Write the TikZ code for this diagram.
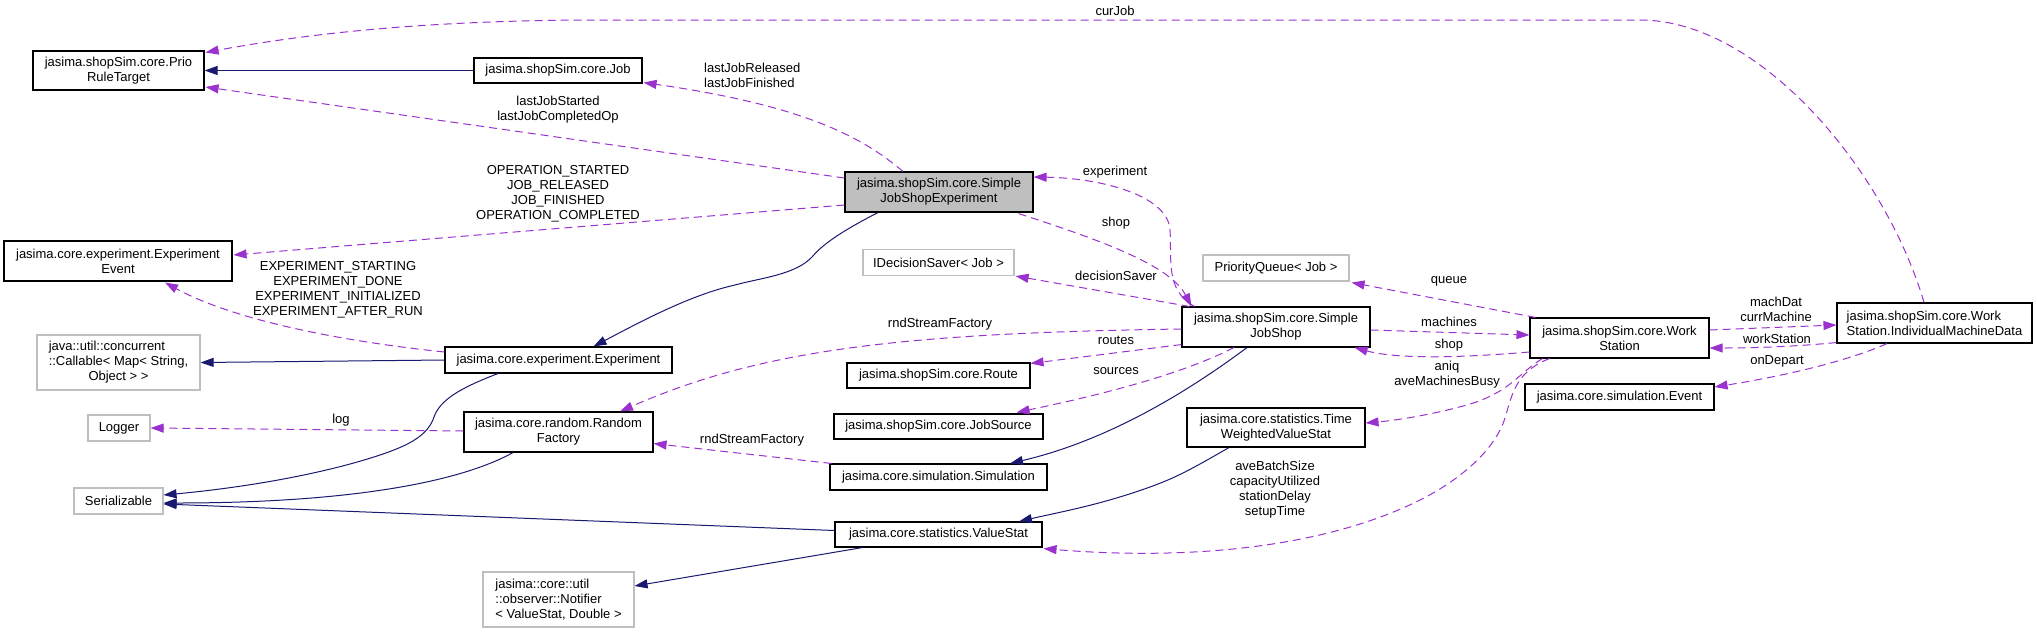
\documentclass[tikz,border=0pt]{standalone}
\usepackage{fontspec}
\setmainfont{Liberation Sans}
\usetikzlibrary{arrows.meta,calc}
\definecolor{navyc}{HTML}{191970}
\definecolor{orchidc}{HTML}{9A32CD}
\definecolor{gborder}{HTML}{BFBFBF}
\begin{document}
\begin{tikzpicture}[x=1pt,y=-1pt,
  every node/.style={font=\fontsize{13}{15}\selectfont, inner sep=0pt},
  cls/.style={draw=black, line width=1.1pt, fill=white, align=center},
  ext/.style={draw=gborder, line width=1.1pt, fill=white, align=center},
  inh/.style={draw=navyc, line width=1pt, -{Triangle[length=13pt,width=9pt]}},
  usage/.style={draw=orchidc, line width=1pt, dash pattern=on 8pt off 5pt, -{Triangle[length=13pt,width=9pt]}},
  lbl/.style={align=center, text=black}]
\useasboundingbox (0,0) rectangle (2037,633);

% class nodes
\node[cls, minimum width=171pt, minimum height=39pt] (prio) at (118.5,70.5) {jasima.shopSim.core.Prio\\RuleTarget};
\node[cls, minimum width=168pt, minimum height=25pt] (job) at (558,70.5) {jasima.shopSim.core.Job};
\node[cls, fill=gborder, minimum width=188pt, minimum height=40pt] (sjse) at (939,192) {jasima.shopSim.core.Simple\\JobShopExperiment};
\node[cls, minimum width=228pt, minimum height=40pt] (evt) at (118,261) {jasima.core.experiment.Experiment\\Event};
\node[ext, minimum width=163pt, minimum height=55pt] (callable) at (118.5,362.5) {\begin{tabular}{@{}l@{}}java::util::concurrent\\::Callable< Map< String,\\\multicolumn{1}{@{}c@{}}{Object > >}\end{tabular}};
\node[cls, minimum width=227pt, minimum height=26pt] (exp) at (558.5,360) {jasima.core.experiment.Experiment};
\node[ext, minimum width=62pt, minimum height=26pt] (logger) at (119,428) {Logger};
\node[cls, minimum width=189pt, minimum height=40pt] (rf) at (558.5,432) {jasima.core.random.Random\\Factory};
\node[ext, minimum width=89pt, minimum height=26pt] (ser) at (118.5,501) {Serializable};
\node[ext, align=left, minimum width=151pt, minimum height=55pt] (notifier) at (558.5,599.5) {jasima::core::util\\::observer::Notifier\\< ValueStat, Double >};
\node[ext, minimum width=151pt, minimum height=26pt] (ids) at (938.5,262.5) {IDecisionSaver< Job >};
\node[cls, minimum width=183pt, minimum height=25pt] (route) at (938.5,375.5) {jasima.shopSim.core.Route};
\node[cls, minimum width=209pt, minimum height=25pt] (jobsource) at (938.5,426.5) {jasima.shopSim.core.JobSource};
\node[cls, minimum width=217pt, minimum height=26pt] (sim) at (938.5,477) {jasima.core.simulation.Simulation};
\node[cls, minimum width=207pt, minimum height=25pt] (vs) at (938.5,534.5) {jasima.core.statistics.ValueStat};
\node[cls, minimum width=188pt, minimum height=40pt] (sjs) at (1276,327) {jasima.shopSim.core.Simple\\JobShop};
\node[ext, minimum width=146pt, minimum height=26pt] (pq) at (1276,268) {PriorityQueue< Job >};
\node[cls, minimum width=178pt, minimum height=39pt] (twvs) at (1276,427.5) {jasima.core.statistics.Time\\WeightedValueStat};
\node[cls, minimum width=179pt, minimum height=40pt] (ws) at (1619.5,338) {jasima.shopSim.core.Work\\Station};
\node[cls, minimum width=189pt, minimum height=26pt] (evtsim) at (1619.5,397) {jasima.core.simulation.Event};
\node[cls, align=left, minimum width=195pt, minimum height=40pt] (imd) at (1934.5,323) {jasima.shopSim.core.Work\\Station.IndividualMachineData};

% inheritance edges
\draw[inh] (job.west) -- (prio.east);
\draw[inh] ($(sjse.south)+(-61,0)$) .. controls (840,232) and (822,245) .. (812,257) .. controls (795,275) and (760,278) .. (735,285) .. controls (690,295) and (640,322) .. ($(exp.north)+(35,0)$);
\draw[inh] (exp.west) -- (callable.east);
\draw[inh] ($(exp.south)+(-60.5,0)$) .. controls (460,388) and (440,400) .. (434,417) .. controls (428,435) and (410,445) .. (380,455) .. controls (320,475) and (240,488) .. ($(ser.east)+(0,-6)$);
\draw[inh] ($(rf.south)+(-45.5,0)$) .. controls (460,482) and (350,503) .. ($(ser.east)+(0,2)$);
\draw[inh] ($(vs.west)+(0,-4)$) -- ($(ser.east)+(0,3)$);
\draw[inh] ($(vs.south)+(-76,0)$) -- ($(notifier.east)+(0,-13.5)$);
\draw[inh] ($(sjs.south)+(-29,0)$) .. controls (1190,390) and (1110,440) .. ($(sim.north)+(71.5,0)$);
\draw[inh] ($(twvs.south)+(-47,0)$) .. controls (1190,470) and (1175,478) .. (1150,487) .. controls (1100,505) and (1060,512) .. ($(vs.north)+(80.5,0)$);

% usage edges
\draw[usage] ($(imd.north)+(-10.5,0)$) .. controls (1885,170) and (1760,20) .. (1640,20) -- (600,20) .. controls (420,20) and (300,35) .. ($(prio.north east)+(1,2)$);
\draw[usage] ($(sjse.north)+(-36,0)$) .. controls (860,135) and (800,105) .. ($(job.south east)+(1,-1)$);
\draw[usage] ($(sjse.west)+(0,-14)$) -- ($(prio.east)+(1,16.5)$);
\draw[usage] ($(sjse.west)+(0,13)$) -- ($(evt.east)+(1,-6)$);
\draw[usage] ($(exp.west)+(0,-8)$) .. controls (330,340) and (230,318) .. ($(evt.south)+(47,1)$);
\draw[usage] ($(sjs.north west)+(13,0)$) .. controls (1165,290) and (1172,260) .. (1170,230) .. controls (1168,195) and (1100,178) .. ($(sjse.east)+(0,-15)$);
\draw[usage] ($(sjse.south east)+(-15,1)$) .. controls (1100,240) and (1170,265) .. ($(sjs.north west)+(10,0)$);
\draw[usage] ($(sjs.north west)+(8,0)$) -- ($(ids.south east)+(1,0)$);
\draw[usage] ($(sjs.west)+(0,2)$) .. controls (900,333) and (760,350) .. ($(rf.north)+(61.5,0)$);
\draw[usage] ($(sjs.south west)+(0,-3)$) -- ($(route.north east)+(0,1)$);
\draw[usage] ($(sjs.south)+(-42,0)$) .. controls (1180,375) and (1100,395) .. ($(jobsource.north east)+(-27,-1)$);
\draw[usage] ($(sim.north west)+(2,0)$) -- ($(rf.south east)+(0,-9)$);
\draw[usage] ($(rf.west)+(0,-1)$) -- (logger.east);
\draw[usage] ($(ws.north west)+(6,0)$) -- ($(pq.south east)+(2,1)$);
\draw[usage] ($(sjs.east)+(0,3)$) -- ($(ws.west)+(0,-3)$);
\draw[usage] ($(ws.west)+(0,14)$) .. controls (1470,357) and (1400,360) .. ($(sjs.south east)+(-16,0)$);
\draw[usage] ($(ws.south west)+(13,0)$) .. controls (1520,372) and (1510,392) .. (1470,404) .. controls (1440,413) and (1400,420) .. ($(twvs.east)+(0,-4.5)$);
\draw[usage] ($(ws.south west)+(20,0)$) .. controls (1515,372) and (1512,395) .. (1505,418) .. controls (1495,450) and (1460,480) .. (1420,500) .. controls (1320,550) and (1180,560) .. ($(vs.south east)+(1,1)$);
\draw[usage] ($(ws.east)+(0,-8)$) -- ($(imd.west)+(0,2)$);
\draw[usage] ($(imd.south west)+(0,-1)$) .. controls (1790,347) and (1750,348) .. ($(ws.east)+(0,10)$);
\draw[usage] ($(imd.south)+(-47.5,0)$) .. controls (1850,360) and (1790,375) .. ($(evtsim.east)+(0,-10)$);

% labels
\node[lbl] (lcurjob) at (1115,11) {curJob};
\node[lbl, anchor=west, align=left] (lljr) at (704,75) {lastJobReleased\\lastJobFinished};
\node[lbl] (lljs) at (558,110) {lastJobStarted\\lastJobCompletedOp};
\node[lbl] (lop) at (558,194) {OPERATION\_STARTED\\JOB\_RELEASED\\JOB\_FINISHED\\OPERATION\_COMPLETED};
\node[lbl] (lexp) at (338,290) {EXPERIMENT\_STARTING\\EXPERIMENT\_DONE\\EXPERIMENT\_INITIALIZED\\EXPERIMENT\_AFTER\_RUN};
\node[lbl] (lexpmt) at (1115,172) {experiment};
\node[lbl] (lshop1) at (1116,223) {shop};
\node[lbl] (ldec) at (1116,276) {decisionSaver};
\node[lbl] (lrnd1) at (940,324) {rndStreamFactory};
\node[lbl] (lroutes) at (1116,340) {routes};
\node[lbl] (lsources) at (1116,371) {sources};
\node[lbl] (lrnd2) at (752,440) {rndStreamFactory};
\node[lbl] (llog) at (341,420) {log};
\node[lbl] (lqueue) at (1449,281) {queue};
\node[lbl] (lmach) at (1449,322) {machines};
\node[lbl] (lshop2) at (1449,345) {shop};
\node[lbl] (laniq) at (1447,375) {aniq\\aveMachinesBusy};
\node[lbl] (lave) at (1275,490) {aveBatchSize\\capacityUtilized\\stationDelay\\setupTime};
\node[lbl] (lmd) at (1776,309) {machDat\\currMachine};
\node[lbl] (lws) at (1777,339) {workStation};
\node[lbl] (lod) at (1777,361) {onDepart};
\end{tikzpicture}
\end{document}
